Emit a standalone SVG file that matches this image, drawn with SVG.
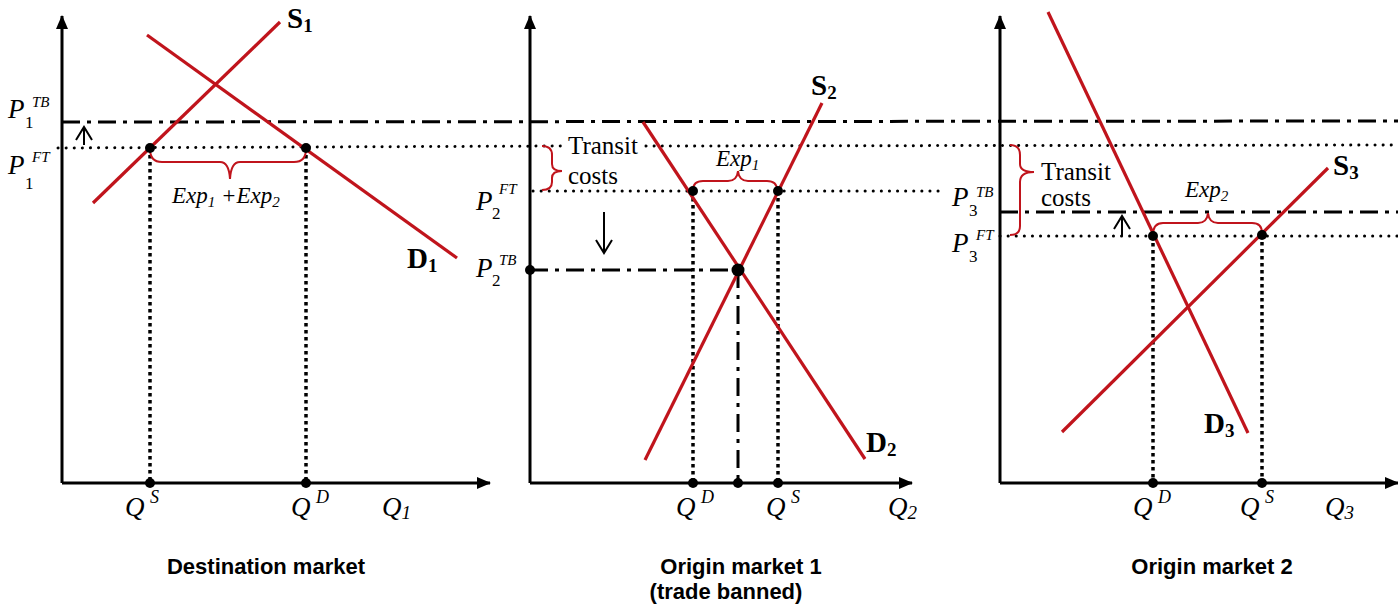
<svg xmlns="http://www.w3.org/2000/svg" width="1398" height="604" viewBox="0 0 1398 604">
<style>
.ax{stroke:#000;stroke-width:3;fill:none}
.dd{stroke:#000;stroke-width:3;fill:none;stroke-dasharray:18 7 4 7}
.dot{stroke:#000;stroke-width:3;fill:none;stroke-dasharray:0.1 8;stroke-linecap:round}
.vdot{stroke:#000;stroke-width:3.5;fill:none;stroke-dasharray:3.5 3.5}
.crv{stroke:#C0141C;stroke-width:3.2;fill:none}
.br{stroke:#C0141C;stroke-width:2;fill:none}
.arr{stroke:#000;stroke-width:2;fill:none}
.pt{fill:#000}
.it{font-family:"Liberation Serif",serif;font-style:italic;fill:#000}
.rm{font-family:"Liberation Serif",serif;fill:#000}
.bd{font-family:"Liberation Serif",serif;font-weight:bold;fill:#000}
.tt{font-family:"Liberation Sans",Arial,sans-serif;font-weight:bold;font-size:22px;fill:#000;text-anchor:middle}
</style>
<defs>
<marker id="ah" viewBox="0 0 14 12" refX="13" refY="6" markerWidth="14" markerHeight="12" markerUnits="userSpaceOnUse" orient="auto">
<path d="M0,0 L14,6 L0,12 Z" fill="#000"/>
</marker>
</defs>

<g id="connectors">
<line class="ax" x1="62" y1="483" x2="62" y2="16" marker-end="url(#ah)"/>
<line class="ax" x1="62" y1="483" x2="490" y2="483" marker-end="url(#ah)"/>
<line class="ax" x1="530" y1="483" x2="530" y2="16" marker-end="url(#ah)"/>
<line class="ax" x1="530" y1="483" x2="912" y2="483" marker-end="url(#ah)"/>
<line class="ax" x1="1000" y1="483" x2="1000" y2="16" marker-end="url(#ah)"/>
<line class="ax" x1="1000" y1="483" x2="1398" y2="483" marker-end="url(#ah)"/>

<line class="dd" x1="62" y1="122" x2="1398" y2="121"/>
<line class="dot" x1="58" y1="148" x2="566" y2="146"/>
<line class="dot" x1="646" y1="146" x2="1398" y2="145"/>
<line class="dot" x1="533" y1="191" x2="940" y2="191"/>
<line class="dd" x1="530" y1="270" x2="738" y2="270"/>
<line class="dd" x1="738" y1="270" x2="738" y2="483"/>
<line class="dd" x1="1000" y1="212" x2="1398" y2="212"/>
<line class="dot" x1="1000" y1="236" x2="1398" y2="236"/>

<line class="vdot" x1="150" y1="148" x2="150" y2="483"/>
<line class="vdot" x1="306" y1="148" x2="306" y2="483"/>
<line class="vdot" x1="693" y1="191" x2="693" y2="483"/>
<line class="vdot" x1="778" y1="191" x2="778" y2="483"/>
<line class="vdot" x1="1153" y1="236" x2="1153" y2="483"/>
<line class="vdot" x1="1262" y1="235" x2="1262" y2="483"/>

<path class="arr" d="M84,145 L84,127 M76,140 L84,127 L92,140"/>
<path class="arr" d="M604,212 L604,253 M596,240 L604,253 L612,240"/>
<path class="arr" d="M1122,236 L1122,216 M1114,229 L1122,216 L1130,229"/>

<path class="br" d="M150,149 Q150,162 162,162 L220,162 Q229,162 230,179 Q231,162 240,162 L294,162 Q306,162 306,149"/>
<path class="br" d="M693,190 Q693,181 703,181 L728,181 Q737,181 738,171 Q739,181 748,181 L767,181 Q777,181 777,190"/>
<path class="br" d="M1153,235 Q1153,223 1163,223 L1198,223 Q1207,223 1208,213 Q1209,223 1218,223 L1252,223 Q1262,223 1262,233"/>
<path class="br" d="M542,146 Q552,146 552,155 L552,164 Q552,171 562,171 Q552,171 552,178 L552,182 Q552,190 542,190"/>
<path class="br" d="M1010,145 Q1020,145 1020,155 L1020,164 Q1020,172 1034,172 Q1020,172 1020,182 L1020,226 Q1020,235 1010,235"/>
</g>

<g id="curves">
<line class="crv" x1="93" y1="203" x2="280" y2="22"/>
<line class="crv" x1="147" y1="35" x2="457" y2="258"/>
<line class="crv" x1="645" y1="460" x2="822" y2="103"/>
<line class="crv" x1="643" y1="122" x2="865" y2="459"/>
<line class="crv" x1="1062" y1="432" x2="1328" y2="168"/>
<line class="crv" x1="1048" y1="12" x2="1248" y2="433"/>
</g>

<g id="points">
<circle class="pt" cx="150" cy="148" r="5"/>
<circle class="pt" cx="306" cy="148" r="5"/>
<circle class="pt" cx="150" cy="483" r="5"/>
<circle class="pt" cx="306" cy="483" r="5"/>
<circle class="pt" cx="693" cy="191" r="5"/>
<circle class="pt" cx="778" cy="191" r="5"/>
<circle class="pt" cx="738" cy="270" r="6.5"/>
<circle class="pt" cx="530" cy="270" r="5"/>
<circle class="pt" cx="693" cy="483" r="5"/>
<circle class="pt" cx="738" cy="483" r="5"/>
<circle class="pt" cx="778" cy="483" r="5"/>
<circle class="pt" cx="1153" cy="236" r="5"/>
<circle class="pt" cx="1262" cy="235" r="5"/>
<circle class="pt" cx="1153" cy="483" r="5"/>
<circle class="pt" cx="1262" cy="483" r="5"/>
</g>

<g id="curve-labels">
<text class="bd" x="287" y="28" font-size="29">S<tspan font-size="19" dy="4">1</tspan></text>
<text class="bd" x="407" y="268" font-size="29">D<tspan font-size="19" dy="4">1</tspan></text>
<text class="bd" x="811" y="95" font-size="29">S<tspan font-size="19" dy="4">2</tspan></text>
<text class="bd" x="866" y="452" font-size="29">D<tspan font-size="19" dy="4">2</tspan></text>
<text class="bd" x="1333" y="175" font-size="29">S<tspan font-size="19" dy="4">3</tspan></text>
<text class="bd" x="1204" y="433" font-size="29">D<tspan font-size="19" dy="4">3</tspan></text>
</g>

<g id="price-labels">
<text class="it" x="8" y="118" font-size="27">P</text>
<text class="rm" x="25" y="128" font-size="17">1</text>
<text class="it" x="32" y="107" font-size="15">TB</text>
<text class="it" x="8" y="174" font-size="27">P</text>
<text class="rm" x="25" y="189" font-size="17">1</text>
<text class="it" x="32" y="162" font-size="15">FT</text>

<text class="it" x="476" y="210" font-size="27">P</text>
<text class="rm" x="492" y="219" font-size="17">2</text>
<text class="it" x="499" y="194" font-size="15">FT</text>
<text class="it" x="476" y="277" font-size="27">P</text>
<text class="rm" x="492" y="286" font-size="17">2</text>
<text class="it" x="499" y="265" font-size="15">TB</text>

<text class="it" x="952" y="206" font-size="27">P</text>
<text class="rm" x="969" y="216" font-size="17">3</text>
<text class="it" x="976" y="197" font-size="15">TB</text>
<text class="it" x="952" y="252" font-size="27">P</text>
<text class="rm" x="969" y="262" font-size="17">3</text>
<text class="it" x="976" y="240" font-size="15">FT</text>
</g>

<g id="annotations">
<text class="it" x="172" y="203" font-size="23">Exp<tspan font-size="15" dy="4">1</tspan><tspan dy="-4"> +Exp</tspan><tspan font-size="15" dy="4">2</tspan></text>
<text class="it" x="716" y="166" font-size="23">Exp<tspan font-size="15" dy="4">1</tspan></text>
<text class="it" x="1185" y="197" font-size="23">Exp<tspan font-size="15" dy="4">2</tspan></text>
<text class="rm" x="568" y="154" font-size="25">Transit</text>
<text class="rm" x="568" y="184" font-size="25">costs</text>
<text class="rm" x="1041" y="180" font-size="25">Transit</text>
<text class="rm" x="1041" y="206" font-size="25">costs</text>
</g>

<g id="quantity-labels">
<text class="it" x="125" y="516" font-size="27">Q</text><text class="it" x="150" y="503" font-size="18">S</text>
<text class="it" x="291" y="516" font-size="27">Q</text><text class="it" x="316" y="503" font-size="18">D</text>
<text class="it" x="382" y="516" font-size="27">Q<tspan font-size="19" dy="3">1</tspan></text>
<text class="it" x="676" y="516" font-size="27">Q</text><text class="it" x="701" y="503" font-size="18">D</text>
<text class="it" x="766" y="516" font-size="27">Q</text><text class="it" x="791" y="503" font-size="18">S</text>
<text class="it" x="888" y="516" font-size="27">Q<tspan font-size="19" dy="3">2</tspan></text>
<text class="it" x="1133" y="516" font-size="27">Q</text><text class="it" x="1158" y="503" font-size="18">D</text>
<text class="it" x="1240" y="516" font-size="27">Q</text><text class="it" x="1265" y="503" font-size="18">S</text>
<text class="it" x="1325" y="516" font-size="27">Q<tspan font-size="19" dy="3">3</tspan></text>
</g>

<g id="titles">
<text class="tt" x="266" y="574">Destination market</text>
<text class="tt" x="741" y="574">Origin market 1</text>
<text class="tt" x="726" y="599">(trade banned)</text>
<text class="tt" x="1212" y="574">Origin market 2</text>
</g>
</svg>
